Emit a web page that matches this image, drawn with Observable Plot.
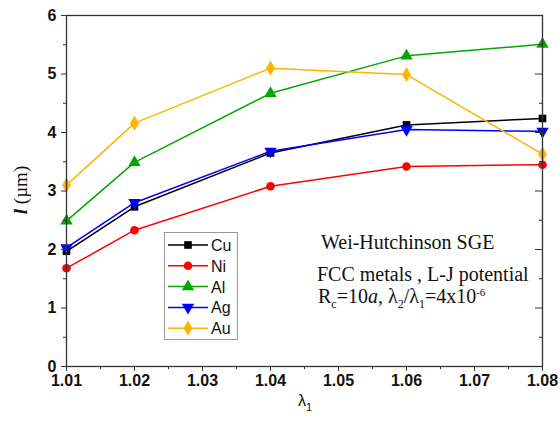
<!DOCTYPE html>
<html><head><meta charset="utf-8">
<script src="https://cdn.jsdelivr.net/npm/d3@7"></script>
<script src="https://cdn.jsdelivr.net/npm/@observablehq/plot@0.6"></script>
<style>body{margin:0;background:#fff} #c{position:relative;width:560px;height:423px}</style>
</head><body><div id="c"></div>
<script>
const lambda1 = [1.01, 1.02, 1.04, 1.06, 1.08];
const Cu = [1.97, 2.73, 3.65, 4.13, 4.24];
const Ni = [1.68, 2.33, 3.08, 3.42, 3.45];
const Al = [2.49, 3.49, 4.67, 5.31, 5.51];
const Ag = [2.03, 2.80, 3.68, 4.05, 4.02];
const Au = [3.10, 4.16, 5.10, 4.99, 3.63];
const xTicks = [1.01, 1.02, 1.03, 1.04, 1.05, 1.06, 1.07, 1.08];
const xMinor = [1.015, 1.025, 1.035, 1.045, 1.055, 1.065, 1.075];
const yTicks = [0, 1, 2, 3, 4, 5, 6];
const yMinor = [0.5, 1.5, 2.5, 3.5, 4.5, 5.5];
const seriesNames = ["Cu", "Ni", "Al", "Ag", "Au"];

const triangleDown = {
  draw(ctx, size) {
    const y = -Math.sqrt(size / (Math.sqrt(3) * 3));
    ctx.moveTo(0, -y * 2);
    ctx.lineTo(-Math.sqrt(3) * y, y);
    ctx.lineTo(Math.sqrt(3) * y, y);
    ctx.closePath();
  }
};
const styles = {
  Cu: {color: "#000000", symbol: d3.symbolSquare, r: 4.3},
  Ni: {color: "#ff0000", symbol: d3.symbolCircle, r: 4.3},
  Al: {color: "#00a800", symbol: d3.symbolTriangle, r: 4.6},
  Ag: {color: "#0000ff", symbol: triangleDown, r: 4.6},
  Au: {color: "#ffb400", symbol: d3.symbolDiamond, r: 4.6}
};
const values = {Cu, Ni, Al, Ag, Au};
const table = seriesNames.map(name => lambda1.map((x, i) => ({name, x, y: values[name][i]})));

const W = 560, H = 423, mL = 66, mR = 18, mT = 15, mB = 57;
const pw = W - mL - mR;
const font = "Liberation Sans, Arial, sans-serif";

const marks = [];
for (const s of table) {
  const st = styles[s[0].name];
  marks.push(Plot.line(s, {x: "x", y: "y", stroke: st.color, strokeWidth: 1.5}));
  marks.push(Plot.dot(s, {x: "x", y: "y", fill: st.color, stroke: "none", symbol: st.symbol, r: st.r}));
}

const chart = Plot.plot({
  width: W, height: H,
  marginLeft: mL, marginRight: mR, marginTop: mT, marginBottom: mB,
  style: {background: "#fff", fontFamily: font},
  x: {domain: [1.01, 1.08]},
  y: {domain: [0, 6]},
  marks: [
    ...marks,
    Plot.frame({stroke: "#333", strokeWidth: 1.3}),
    Plot.axisX(xTicks, {tickSize: 5, tickPadding: 3, fontSize: 16, fontWeight: "bold", tickFormat: d3.format(".2f"), label: null, stroke: "#333", fill: "#111"}),
    Plot.axisX(xMinor, {tickSize: 3, tickFormat: () => "", label: null, stroke: "#333"}),
    Plot.axisY(yTicks, {tickSize: 5, tickPadding: 5, fontSize: 16, fontWeight: "bold", tickFormat: d3.format("d"), label: null, stroke: "#333", fill: "#111"}),
    Plot.axisY(yMinor, {tickSize: 3, tickFormat: () => "", label: null, stroke: "#333"}),
    Plot.tickY(yTicks, {y: d => d, insetLeft: pw - 7, stroke: "#333"}),
    Plot.tickY(yMinor, {y: d => d, insetLeft: pw - 3, stroke: "#333"})
  ]
});
document.getElementById("c").appendChild(chart);

const svg = d3.select(chart);
// Axis titles
const yl = svg.append("text").attr("transform", "translate(27,190) rotate(-90)")
  .attr("text-anchor", "middle").attr("font-family", "Liberation Serif, Times New Roman, serif").attr("font-size", 19).attr("fill", "#111");
yl.append("tspan").attr("font-style", "italic").attr("font-weight", "bold").text("l");
yl.append("tspan").text(" (\u00b5m)");
const xl = svg.append("text").attr("x", 298).attr("y", 406).attr("text-anchor", "start")
  .attr("font-family", font).attr("font-size", 16).attr("fill", "#111");
xl.append("tspan").text("\u03bb");
xl.append("tspan").attr("font-size", 11).attr("dy", 5).text("1");

// Legend
const lg = svg.append("g");
lg.append("rect").attr("x", 164.5).attr("y", 232.5).attr("width", 73).attr("height", 107)
  .attr("fill", "#fff").attr("stroke", "#999").attr("stroke-width", 1);
seriesNames.forEach((name, i) => {
  const st = styles[name];
  const cy = 245 + i * 20.8;
  lg.append("line").attr("x1", 168).attr("x2", 208).attr("y1", cy).attr("y2", cy)
    .attr("stroke", st.color).attr("stroke-width", 1.5);
  lg.append("path").attr("transform", `translate(188,${cy})`)
    .attr("d", d3.symbol(st.symbol, Math.PI * st.r * st.r)()).attr("fill", st.color);
  lg.append("text").attr("x", 211).attr("y", cy + 6).attr("text-anchor", "start").attr("font-family", font)
    .attr("font-size", 16).attr("fill", "#111").text(name);
});

// Annotation
const serif = "Liberation Serif, Times New Roman, serif";
const fs = 20;
svg.append("text").attr("x", 321).attr("y", 249).attr("text-anchor", "start").attr("font-family", serif).attr("font-size", fs).attr("fill", "#111").text("Wei-Hutchinson SGE");
svg.append("text").attr("x", 317).attr("y", 281).attr("text-anchor", "start").attr("font-family", serif).attr("font-size", fs).attr("fill", "#111").text("FCC metals , L-J potential");
const t3 = svg.append("text").attr("x", 318).attr("y", 303).attr("text-anchor", "start").attr("font-family", serif).attr("font-size", fs).attr("fill", "#111");
t3.append("tspan").text("R");
t3.append("tspan").attr("font-size", 12).attr("dy", 5).text("c");
t3.append("tspan").attr("dy", -5).text("=10");
t3.append("tspan").attr("font-style", "italic").text("a");
t3.append("tspan").text(", \u03bb");
t3.append("tspan").attr("font-size", 12).attr("dy", 5).text("2");
t3.append("tspan").attr("dy", -5).text("/\u03bb");
t3.append("tspan").attr("font-size", 12).attr("dy", 5).text("1");
t3.append("tspan").attr("dy", -5).text("=4x10");
t3.append("tspan").attr("font-size", 11).attr("dy", -7).text("-6");
</script>
</body></html>
